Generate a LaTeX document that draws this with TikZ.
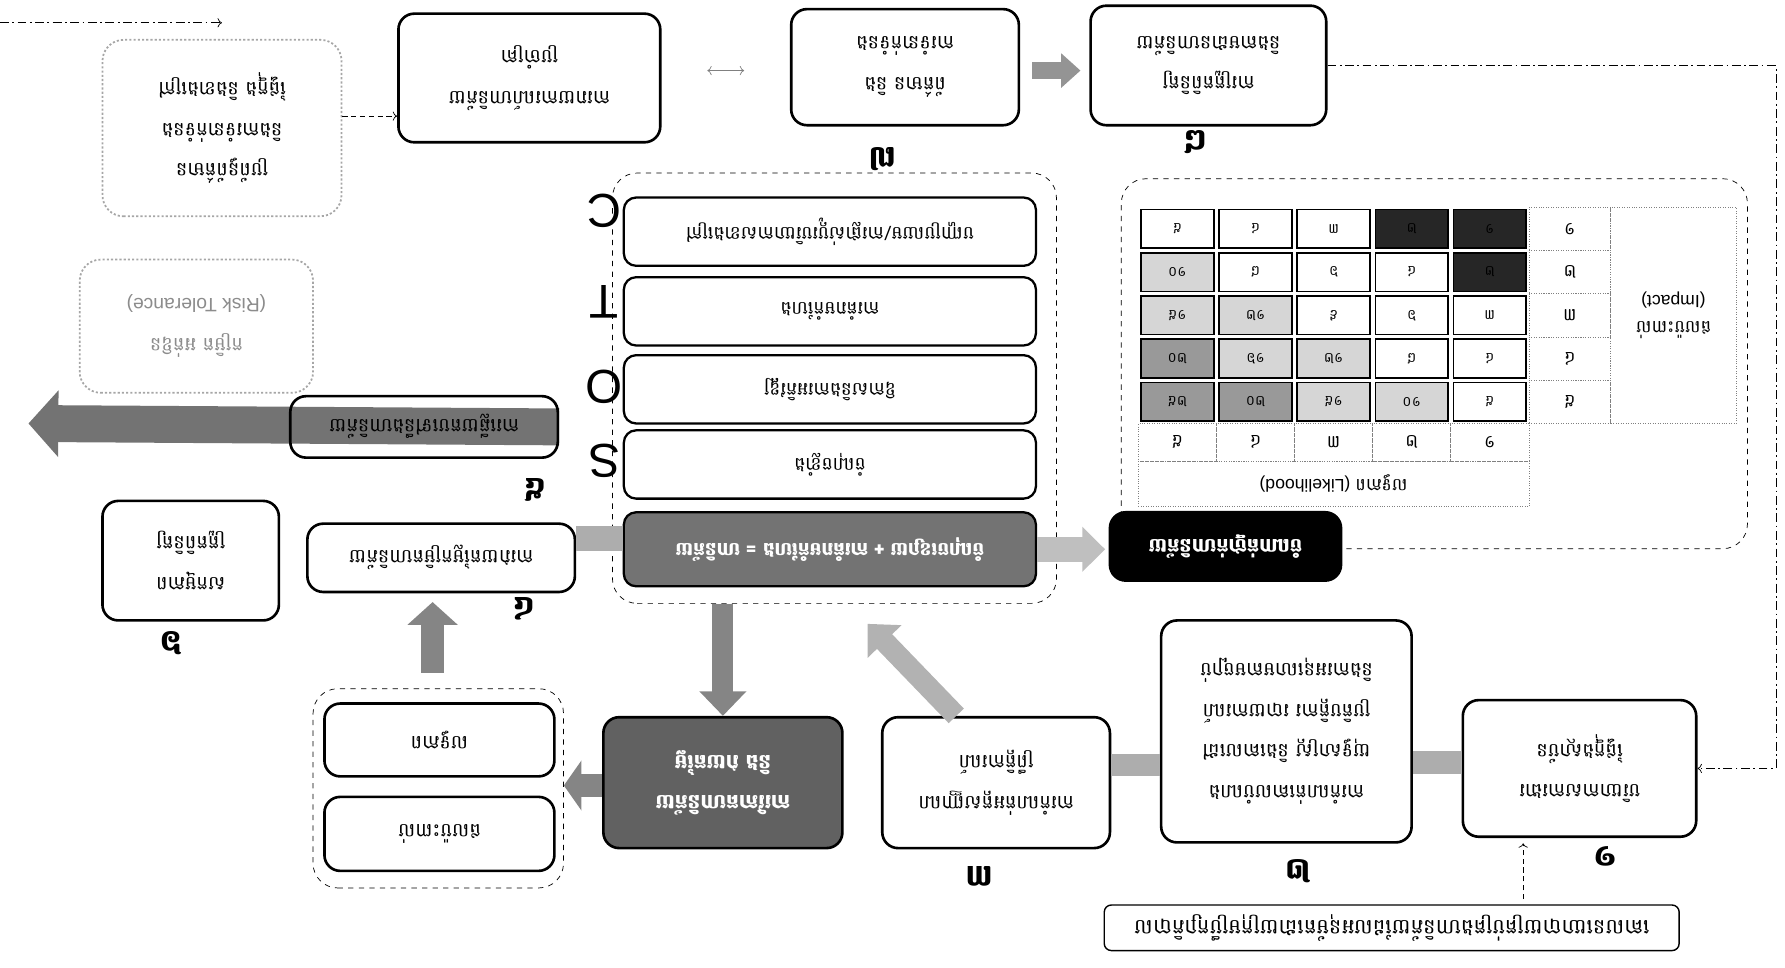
\documentclass[tikz,border=0pt]{standalone}
\usepackage{fontspec}
\setmainfont{Liberation Sans}
\newfontfamily\khmer[Script=Khmer]{Battambang}
\usetikzlibrary{arrows.meta,positioning,backgrounds}

\newcommand{\khdigit}[1]{\ifcase#1 ០\or ១\or ២\or ៣\or ៤\or ៥\or ៦\or ៧\or ៨\or ៩\fi}
\newcommand{\khtext}[1]{{\khmer #1}}

\tikzset{
  sz/.style 2 args={minimum width=#1*0.02277cm, minimum height=#2*0.02277cm},
  stage/.style={draw, line width=1.5pt, rounded corners=9pt, fill=white, align=center,
    inner sep=1pt, font=\khmer\fontsize{11}{23}\selectfont},
  soft/.style={draw=black!35, dash pattern=on 1.2pt off 1.2pt, line width=1pt, rounded corners=12pt,
    align=center, inner sep=1pt, font=\khmer\fontsize{11}{23}\selectfont},
  grp/.style={draw, dashed, thin, rounded corners=14pt},
  num/.style={font=\khmer\bfseries\fontsize{17}{17}\selectfont},
  swotrow/.style={draw, line width=1.3pt, rounded corners=7pt, fill=white, sz={362}{60},
    font=\khmer\fontsize{10.5}{12}\selectfont},
  letter/.style={font=\fontsize{27}{27}\selectfont},
  cell/.style={draw, line width=0.9pt, sz={64}{34}, inner sep=0pt, font=\khmer\fontsize{8}{8}\selectfont},
  axis/.style={draw=gray, densely dotted, thin, inner sep=0pt, align=center, font=\fontsize{10}{15}\selectfont},
  gbar/.style={line width=13pt, draw=black!32},
  garrow/.style={draw=black!48, line width=12pt, -{Triangle[width=26pt,length=14pt]}},
  dashdot/.style={dash pattern=on 5pt off 2pt on 1pt off 2pt, thin},
}

\begin{document}
\begin{tikzpicture}[x=0.02277cm, y=-0.02277cm]
\useasboundingbox (0,0) rectangle (1568,850);
\begin{scope}[rotate around={180:(784,425)}, transform shape]

% first row
\node[stage, line width=0.8pt, rounded corners=4pt, sz={505}{40}, font=\khmer\fontsize{12}{23}\selectfont]
  (board) at (345.5,35) {គោលនយោបាយគ្រប់គ្រងហានិភ័យដែលអនុម័តដោយក្រុមប្រឹក្សាភិបាល};
\node[stage, sz={205}{120}] (objective) at (180.5,175) {បរិយាកាសការងារ\\ផ្ទៃក្នុងស្ថាប័ន};
\node[stage, sz={220}{195}] (event) at (438,207.5)
  {ការកំណត់គោលបំណង\\យុទ្ធសាស្ត្រ និងគោលដៅ\\ប្រតិបត្តិការ របាយការណ៍\\និងការអនុលោមតាមច្បាប់};
\node[stage, sz={200}{115}] (identify) at (693,162.5) {ការកំណត់អត្តសញ្ញាណ\\ព្រឹត្តិការណ៍};
\node[stage, sz={210}{115}, fill=black!62, text=white, font=\khmer\bfseries\fontsize{11.5}{23}\selectfont]
  (assess) at (933,162.5) {ការវិភាគហានិភ័យ\\និង វាយតម្លៃ};
\node[grp, sz={220}{175}] (lipair) at (1183,157.5) {};
\node[stage, sz={202}{65}] (impact) at (1182,117.5) {ផលប៉ះពាល់};
\node[stage, sz={202}{64}] (likeli) at (1182,200) {លទ្ធភាព};

\node[num] (n1) at (158,98) {១};
\node[num] (n2) at (428,85) {២};
\node[num] (n3) at (708,80) {៣};

% middle
\node[stage, sz={235}{60}] (level) at (1180.5,360) {ការវាយតម្លៃកម្រិតហានិភ័យ};
\node[stage, sz={155}{105}] (control) at (1400.5,357.5) {សកម្មភាព\\ត្រួតពិនិត្យ};
\node[stage, fill=none, sz={235}{54}] (respond) at (1195.5,475) {ការឆ្លើយតបទៅនឹងហានិភ័យ};
\node[soft, text=black!45, sz={205}{117}] (tolerance) at (1395.5,563.5)
  {កម្រិត អត់ឱន\\{\rmfamily (Risk Tolerance)}};
\node[num] (n4) at (1108,315) {៤};
\node[num] (n5) at (1098,420) {៥};
\node[num] (n6) at (1418,285) {៦};

% SWOT
\node[grp, sz={390}{378}] (swot) at (835,509) {};
\node[swotrow, fill=black!55, text=white, sz={362}{65}, font=\khmer\bfseries\fontsize{10.5}{12}\selectfont]
  (rowR) at (839,367.5) {ចំណុចខ្សោយ + ការគំរាមកំហែង = ហានិភ័យ};
\node[swotrow] (rowS) at (839,442) {ចំណុចខ្លាំង};
\node[swotrow] (rowO) at (839,508) {ឱកាសនិងការអភិវឌ្ឍ};
\node[swotrow] (rowT) at (839,576.5) {ការគំរាមកំហែង};
\node[swotrow] (rowC) at (839,646.5) {បញ្ហាប្រឈម/ការផ្លាស់ប្តូរបរិយាកាសខាងក្រៅ};
\node[letter] (ltS) at (1037,445) {S};
\node[letter] (ltO) at (1037,510) {O};
\node[letter] (ltT) at (1037,585) {T};
\node[letter] (ltC) at (1037,665) {C};

% matrix
\node[grp, sz={550}{325}] (matrixzone) at (308,530.5) {};
\node[axis, sz={110}{190}] (ilabel) at (98,573) {\khtext{ផលប៉ះពាល់}\\(Impact)};
\node[axis, sz={343}{40}] (llabel) at (396.5,425) {\khtext{លទ្ធភាព} (Likelihood)};
\foreach \I in {1,...,5}
  \node[axis, sz={72}{38}] (i\I) at (189,{668-(\I-0.5)*38}) {\khtext{\khdigit\I}};
\foreach \L in {1,...,5}
  \node[axis, sz={68.6}{33}] (l\L) at ({225+(\L-0.5)*68.6},461.5) {\khtext{\khdigit\L}};
\foreach \L in {1,...,5}{
  \foreach \I in {1,...,5}{
    \pgfmathtruncatemacro\score{\L*\I}
    \pgfmathtruncatemacro\shade{\score<3 ? 85 : (\score<10 ? 0 : (\score<17 ? 16 : 40))}
    \pgfmathtruncatemacro\tens{\score/10}
    \pgfmathtruncatemacro\ones{mod(\score,10)}
    \node[cell, fill=black!\shade] (c\L\I) at ({225+(\L-0.5)*68.6},{668-(\I-0.5)*38})
      {\ifnum\tens>0 \khdigit\tens\fi\khdigit\ones};
  }
}
\node[stage, fill=black, text=white, sz={203}{60}, font=\khmer\bfseries\fontsize{11}{23}\selectfont]
  (rating) at (491.5,370) {ចំណាត់ថ្នាក់ហានិភ័យ};

% bottom row
\node[soft, sz={210}{155}] (info) at (1373,737.5)
  {ប្រព័ន្ធព័ត៌មាន\\និងការទំនាក់ទំនង\\ផ្ទៃក្នុង និងខាងក្រៅ};
\node[stage, sz={230}{113}] (report) at (1103,781.5) {ការរាយការណ៍ហានិភ័យ\\ប្រចាំគ្រា};
\node[stage, sz={200}{102}] (infocomm) at (773,791) {ព័ត៌មាន និង\\ការទំនាក់ទំនង};
\node[stage, sz={207}{105}] (monitor) at (506.5,792.5) {ការត្រួតពិនិត្យ\\និងតាមដានហានិភ័យ};
\node[num] (n7) at (793,710) {៧};
\node[num] (n8) at (518,725) {៨};

% connectors
\coordinate (fb) at (230,0);
\draw[densely dashed, ->, shorten <=3pt, shorten >=3pt] (board.south -| fb) -- (objective.north -| fb);
\draw[gbar] (objective.east |- 0,180) -- (event.west |- 0,180);
\draw[gbar] (event.east |- 0,178) -- (identify.west |- 0,178);
\coordinate (swotin) at (806,302);
\draw[garrow, draw=black!30] ([xshift=35*0.02277cm]identify.south) -- (swotin);
\draw[garrow] (swot.north -| assess) -- (assess.south);
\draw[garrow, line width=13pt, -{Triangle[width=28pt,length=10pt]}] (assess.east |- 0,160) -- (lipair.west |- 0,160);
\draw[garrow, line width=13pt, -{Triangle[width=28pt,length=13pt]}, shorten <=9pt, shorten >=5pt]
  (lipair.south -| 1188,0) -- (level.north -| 1188,0);
\draw[gbar, line width=14pt] (rowR.east |- 0,377) -- (level.west |- 0,377);
\draw[draw=black!25, line width=14pt, -{Triangle[width=25pt,length=13pt]}, shorten >=2pt]
  (rowR.west) -- (rowR.west -| rating.east);
\coordinate (exit) at (1543,478);
\begin{scope}[on background layer]
\draw[draw=black!55, line width=21pt, -{Triangle[width=37pt,length=17pt]}] (respond.west) -- (exit);
\end{scope}
\draw[densely dashed, ->] (info.west |- 0,748) -- (report.east |- 0,748);
\draw[gray, <->, shorten <=26pt, shorten >=26pt] (report.west |- 0,788) -- (infocomm.east |- 0,788);
\draw[draw=black!42, line width=10pt, -{Triangle[width=19pt,length=11pt]}, shorten <=7pt, shorten >=5pt]
  (infocomm.west |- 0,788) -- (monitor.east |- 0,788);
\coordinate (loopcorner) at (8,0);
\draw[dashdot, ->] (monitor.west) -- (monitor.west -| loopcorner) |- (objective.west);
\coordinate (src) at (1568,830);
\draw[dashdot, ->] (src) -- (src -| info.south);

\end{scope}
\end{tikzpicture}
\end{document}
